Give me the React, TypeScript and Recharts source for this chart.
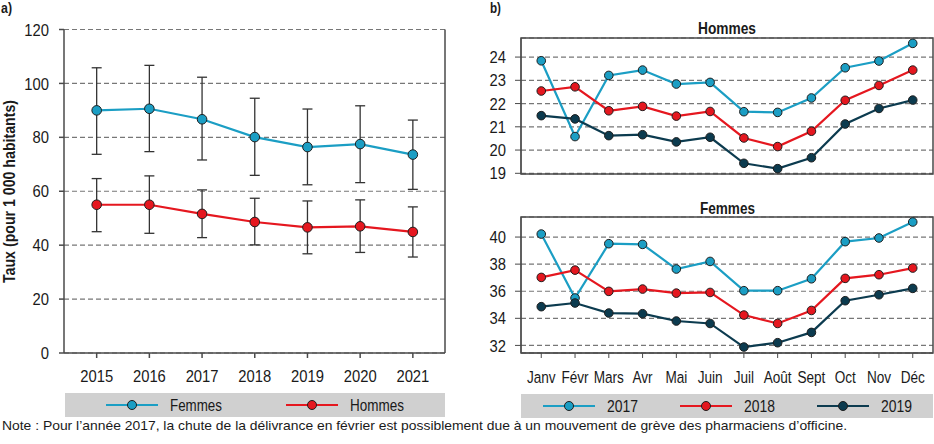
import React from 'react';
import { LineChart, Line, XAxis, YAxis, CartesianGrid, ErrorBar, ReferenceLine, ReferenceArea } from 'recharts';

// a) annual rates with confidence intervals
const YEARS = ['2015', '2016', '2017', '2018', '2019', '2020', '2021'];
const FEMMES = [90, 90.6, 86.7, 80.1, 76.4, 77.5, 73.6];
const FEMMES_LOW = [73.7, 74.7, 71.6, 65.9, 62.4, 63.2, 60.7];
const FEMMES_HIGH = [105.8, 106.7, 102.3, 94.5, 90.5, 91.7, 86.4];
const HOMMES = [55, 55, 51.6, 48.6, 46.6, 47, 44.9];
const HOMMES_LOW = [45, 44.4, 42.8, 40.1, 36.8, 37.3, 35.6];
const HOMMES_HIGH = [64.7, 65.7, 60.5, 57.4, 56.4, 56.8, 54.2];
const A_TICKS = [0, 20, 40, 60, 80, 100, 120];

// b) monthly rates
const MONTHS = ['Janv', 'Févr', 'Mars', 'Avr', 'Mai', 'Juin', 'Juil', 'Août', 'Sept', 'Oct', 'Nov', 'Déc'];
const H_2017 = [23.84, 20.58, 23.21, 23.44, 22.84, 22.91, 21.65, 21.62, 22.24, 23.54, 23.83, 24.59];
const H_2018 = [22.54, 22.72, 21.69, 21.88, 21.46, 21.66, 20.52, 20.15, 20.81, 22.14, 22.78, 23.44];
const H_2019 = [21.48, 21.34, 20.62, 20.66, 20.35, 20.55, 19.43, 19.2, 19.67, 21.12, 21.79, 22.15];
const F_2017 = [40.22, 35.5, 39.51, 39.46, 37.64, 38.2, 36.04, 36.04, 36.92, 39.66, 39.93, 41.11];
const F_2018 = [37.02, 37.56, 35.99, 36.16, 35.86, 35.91, 34.24, 33.62, 34.58, 36.95, 37.22, 37.71];
const F_2019 = [34.86, 35.13, 34.39, 34.34, 33.8, 33.62, 31.88, 32.2, 32.96, 35.3, 35.74, 36.21];
const H_TICKS = [19, 20, 21, 22, 23, 24];
const F_TICKS = [32, 34, 36, 38, 40];

const NOTE =
  'Note : Pour l’année 2017, la chute de la délivrance en février est possiblement due à un mouvement de grève des pharmaciens d’officine.';

const FONT = "'Liberation Sans', Arial, sans-serif";
const INK = '#1a1a1a';
const BLUE = '#1b9ec4';
const RED = '#e5171f';
const DARK = '#0c3b4f';
const AXIS = '#4a4a4a';
const GRID = '#777';
const LEGEND_BG = '#d0d0d0';

const annualData = YEARS.map((year, i) => ({
  i,
  year,
  femmes: FEMMES[i],
  femmesErr: [FEMMES[i] - FEMMES_LOW[i], FEMMES_HIGH[i] - FEMMES[i]],
  hommes: HOMMES[i],
  hommesErr: [HOMMES[i] - HOMMES_LOW[i], HOMMES_HIGH[i] - HOMMES[i]],
}));

const monthly = (a: number[], b: number[], c: number[]) =>
  MONTHS.map((month, i) => ({ i, month, y2017: a[i], y2018: b[i], y2019: c[i] }));

const hommesData = monthly(H_2017, H_2018, H_2019);
const femmesData = monthly(F_2017, F_2018, F_2019);

// the source uses a condensed face; squeeze Liberation Sans horizontally
const NarrowTick = (props: any) => {
  const { x, y, payload, textAnchor, sx, dy, fmt } = props;
  const label = fmt ? fmt(payload.value) : payload.value;
  return (
    <text
      transform={`translate(${x},${y}) scale(${sx},1)`}
      textAnchor={textAnchor}
      dy={dy}
      fontSize={17}
      fontFamily={FONT}
      fill={INK}
    >
      {label}
    </text>
  );
};

const dot = (color: string, r: number) => ({ r, fill: color, stroke: '#1e1e1e', strokeWidth: 1 });

function LegendBox({ width, items }: { width: number; items: { label: string; color: string; x: number; w: number }[] }) {
  return (
    <svg width={width} height={24} style={{ display: 'block' }}>
      <rect x={0} y={0} width={width} height={24} fill={LEGEND_BG} />
      {items.map((it) => (
        <g key={it.label}>
          <line x1={it.x} x2={it.x + 52} y1={12} y2={12} stroke={it.color} strokeWidth={2.2} />
          <circle cx={it.x + 26} cy={12} r={4.5} fill={it.color} stroke="#1e1e1e" strokeWidth={1} />
          <text
            x={it.x + 64}
            y={18}
            fontSize={17}
            fontFamily={FONT}
            fill={INK}
            textLength={it.w}
            lengthAdjust="spacingAndGlyphs"
          >
            {it.label}
          </text>
        </g>
      ))}
    </svg>
  );
}

function MonthChart({ data, ticks, domain, height, top, bottom, showX }: any) {
  return (
    <LineChart width={454} height={height} data={data} margin={{ top, right: 1, bottom, left: 0 }}>
      <CartesianGrid vertical={false} stroke={GRID} strokeDasharray="5 3" strokeWidth={1.2} />
      <XAxis
        type="number"
        dataKey="i"
        domain={[-0.6, 11.6]}
        ticks={MONTHS.map((_, i) => i)}
        hide={!showX}
        height={37}
        tick={<NarrowTick sx={0.8} dy="0.71em" fmt={(v: number) => MONTHS[v]} />}
        tickSize={5}
        tickMargin={13}
        stroke={AXIS}
        interval={0}
      />
      <YAxis
        domain={domain}
        ticks={ticks}
        width={41}
        tick={<NarrowTick sx={0.87} dy="0.36em" />}
        tickSize={6}
        tickMargin={9}
        stroke={AXIS}
        interval={0}
        allowDataOverflow
      />
      <ReferenceArea x1={-0.6} x2={11.6} y1={domain[0]} y2={domain[1]} fill="none" stroke={AXIS} strokeWidth={1.5} />
      <Line dataKey="y2017" stroke={BLUE} strokeWidth={2.2} dot={dot(BLUE, 4.3)} activeDot={false} isAnimationActive={false} />
      <Line dataKey="y2018" stroke={RED} strokeWidth={2.2} dot={dot(RED, 4.3)} activeDot={false} isAnimationActive={false} />
      <Line dataKey="y2019" stroke={DARK} strokeWidth={2.2} dot={dot(DARK, 4.3)} activeDot={false} isAnimationActive={false} />
    </LineChart>
  );
}

export default function App() {
  return (
    <div style={{ position: 'absolute', left: 0, top: 0, width: 934, height: 444, background: '#fff', overflow: 'hidden' }}>
      <div style={{ position: 'absolute', left: 0, top: 0 }}>
        <LineChart width={460} height={392} data={annualData} margin={{ top: 29.5, right: 15, bottom: 0, left: 0 }}>
          <CartesianGrid vertical={false} stroke={GRID} strokeDasharray="5 3" strokeWidth={1.2} />
          <XAxis
            type="number"
            dataKey="i"
            domain={[-0.62, 6.61]}
            ticks={YEARS.map((_, i) => i)}
            height={39}
            tick={<NarrowTick sx={0.87} dy="0.71em" fmt={(v: number) => YEARS[v]} />}
            tickSize={5}
            tickMargin={12}
            stroke={AXIS}
            strokeWidth={1.5}
            interval={0}
          />
          <YAxis
            domain={[0, 120]}
            ticks={A_TICKS}
            width={64}
            tick={<NarrowTick sx={0.87} dy="0.36em" />}
            tickSize={5}
            tickMargin={10}
            stroke={AXIS}
            strokeWidth={1.5}
            interval={0}
          />
          <ReferenceLine x={6.61} stroke={AXIS} strokeWidth={1.5} />
          <Line dataKey="femmes" stroke={BLUE} strokeWidth={2.2} dot={dot(BLUE, 4.8)} activeDot={false} isAnimationActive={false}>
            <ErrorBar dataKey="femmesErr" direction="y" width={5} stroke="#333" strokeWidth={1.3} isAnimationActive={false} />
          </Line>
          <Line dataKey="hommes" stroke={RED} strokeWidth={2.2} dot={dot(RED, 4.8)} activeDot={false} isAnimationActive={false}>
            <ErrorBar dataKey="hommesErr" direction="y" width={5} stroke="#333" strokeWidth={1.3} isAnimationActive={false} />
          </Line>
        </LineChart>
      </div>
      <div style={{ position: 'absolute', left: 65, top: 393 }}>
        <LegendBox
          width={380}
          items={[
            { label: 'Femmes', color: BLUE, x: 41, w: 52 },
            { label: 'Hommes', color: RED, x: 221, w: 54 },
          ]}
        />
      </div>

      <div style={{ position: 'absolute', left: 480, top: 0 }}>
        <MonthChart data={hommesData} ticks={H_TICKS} domain={[18.97, 24.82]} height={186} top={38} bottom={12} showX={false} />
      </div>
      <div style={{ position: 'absolute', left: 480, top: 190 }}>
        <MonthChart data={femmesData} ticks={F_TICKS} domain={[31.44, 41.48]} height={200} top={27} bottom={0} showX={true} />
      </div>
      <div style={{ position: 'absolute', left: 521, top: 394 }}>
        <LegendBox
          width={412}
          items={[
            { label: '2017', color: BLUE, x: 22, w: 31 },
            { label: '2018', color: RED, x: 159, w: 31 },
            { label: '2019', color: DARK, x: 296, w: 31 },
          ]}
        />
      </div>

      {/* static texts: panel letters, titles, axis title, note */}
      <svg width={934} height={444} style={{ position: 'absolute', left: 0, top: 0, pointerEvents: 'none' }} fontFamily={FONT} fill={INK}>
        <text x={1} y={13} fontSize={15} fontWeight="bold" textLength={11} lengthAdjust="spacingAndGlyphs">a)</text>
        <text x={490} y={13} fontSize={15} fontWeight="bold" textLength={11} lengthAdjust="spacingAndGlyphs">b)</text>
        <text x={727} y={34} fontSize={17} fontWeight="bold" textAnchor="middle" textLength={58} lengthAdjust="spacingAndGlyphs">Hommes</text>
        <text x={727.5} y={214} fontSize={17} fontWeight="bold" textAnchor="middle" textLength={55} lengthAdjust="spacingAndGlyphs">Femmes</text>
        <text
          x={15}
          y={191.5}
          transform="rotate(-90 15 191.5)"
          fontSize={16}
          fontWeight="bold"
          textAnchor="middle"
          textLength={183}
          lengthAdjust="spacingAndGlyphs"
        >
          Taux (pour 1 000 habitants)
        </text>
        <text x={2} y={430} fontSize={13.5} textLength={845} lengthAdjust="spacingAndGlyphs">{NOTE}</text>
      </svg>
    </div>
  );
}
